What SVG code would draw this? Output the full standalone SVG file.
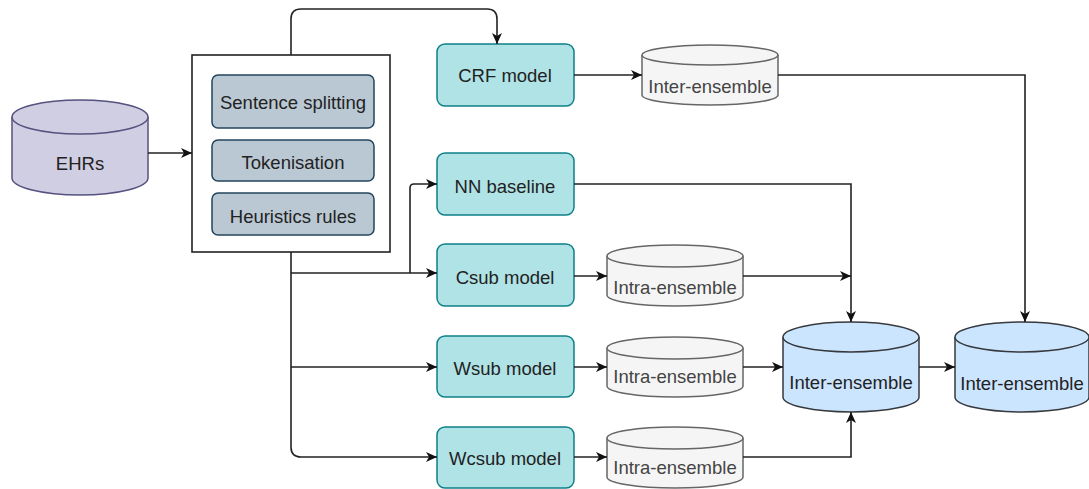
<svg xmlns="http://www.w3.org/2000/svg" width="1089" height="489" viewBox="0 0 1089 489">
<style>
text{font-family:"Liberation Sans",Arial,sans-serif;font-size:18.5px;text-anchor:middle;fill:#222}
.cyl-purple{fill:#d0cee2;stroke:#56517e;stroke-width:1.5}
.cyl-gray{fill:#f5f5f5;stroke:#666;stroke-width:1.5}
.cyl-blue{fill:#cce5ff;stroke:#36393d;stroke-width:1.5}
.teal{fill:#b0e3e6;stroke:#0e8088;stroke-width:1.5}
.step{fill:#bac8d3;stroke:#23445d;stroke-width:1.5}
.frame{fill:#fff;stroke:#222;stroke-width:1.6}
.conn path{fill:none;stroke:#222;stroke-width:1.6}
.gt{fill:#444}
</style>
<defs>
<marker id="arr" markerWidth="14" markerHeight="12" refX="11" refY="5" orient="auto" markerUnits="userSpaceOnUse">
<path d="M0 0 L11 5 L0 10 L3 5 Z" fill="#111"/>
</marker>
</defs>

<g id="ehrs">
<path class="cyl-purple" d="M12 117 A68 17 0 0 1 148 117 V178 A68 17 0 0 1 12 178 Z"/>
<path class="cyl-purple" fill="none" d="M12 117 A68 17 0 0 0 148 117"/>
<text x="80" y="170">EHRs</text>
</g>

<g id="preprocessing">
<rect class="frame" x="192" y="55" width="198" height="197"/>
<g id="sentence-splitting"><rect class="step" x="212" y="75" width="162" height="53" rx="6"/><text x="293" y="109">Sentence splitting</text></g>
<g id="tokenisation"><rect class="step" x="212" y="140" width="162" height="41" rx="6"/><text x="293" y="169">Tokenisation</text></g>
<g id="heuristics"><rect class="step" x="212" y="193" width="162" height="42" rx="6"/><text x="293" y="223">Heuristics rules</text></g>
</g>

<g id="crf"><rect class="teal" x="437" y="44" width="137" height="62" rx="8"/><text x="505" y="82">CRF model</text></g>
<g id="nn"><rect class="teal" x="437" y="153" width="137" height="62" rx="8"/><text x="505" y="193">NN baseline</text></g>
<g id="csub"><rect class="teal" x="437" y="244" width="137" height="62" rx="8"/><text x="505" y="284">Csub model</text></g>
<g id="wsub"><rect class="teal" x="437" y="336" width="137" height="61" rx="8"/><text x="505" y="375">Wsub model</text></g>
<g id="wcsub"><rect class="teal" x="437" y="427" width="137" height="61" rx="8"/><text x="505" y="465">Wcsub model</text></g>

<g id="inter-crf">
<path class="cyl-gray" d="M642 55 A68 10 0 0 1 778 55 V95 A68 10 0 0 1 642 95 Z"/>
<path class="cyl-gray" fill="none" d="M642 55 A68 10 0 0 0 778 55"/>
<text class="gt" x="710" y="93">Inter-ensemble</text>
</g>
<g id="intra1">
<path class="cyl-gray" d="M607 256 A68 11 0 0 1 743 256 V295 A68 11 0 0 1 607 295 Z"/>
<path class="cyl-gray" fill="none" d="M607 256 A68 11 0 0 0 743 256"/>
<text class="gt" x="675" y="294">Intra-ensemble</text>
</g>
<g id="intra2">
<path class="cyl-gray" d="M607 348 A68 11 0 0 1 743 348 V386 A68 11 0 0 1 607 386 Z"/>
<path class="cyl-gray" fill="none" d="M607 348 A68 11 0 0 0 743 348"/>
<text class="gt" x="675" y="383">Intra-ensemble</text>
</g>
<g id="intra3">
<path class="cyl-gray" d="M607 438 A68 11 0 0 1 743 438 V477 A68 11 0 0 1 607 477 Z"/>
<path class="cyl-gray" fill="none" d="M607 438 A68 11 0 0 0 743 438"/>
<text class="gt" x="675" y="474">Intra-ensemble</text>
</g>

<g id="inter1">
<path class="cyl-blue" d="M783 337 A68 15 0 0 1 919 337 V397 A68 15 0 0 1 783 397 Z"/>
<path class="cyl-blue" fill="none" d="M783 337 A68 15 0 0 0 919 337"/>
<text x="851" y="389">Inter-ensemble</text>
</g>
<g id="inter2">
<path class="cyl-blue" d="M955 337 A67 15 0 0 1 1089 337 V397 A67 15 0 0 1 955 397 Z"/>
<path class="cyl-blue" fill="none" d="M955 337 A67 15 0 0 0 1089 337"/>
<text x="1022" y="390">Inter-ensemble</text>
</g>

<g id="connectors" class="conn">
<path d="M148 153 H192" marker-end="url(#arr)"/>
<path d="M291 55 V19 Q291 9 301 9 H487 Q497 9 497 19 V44" marker-end="url(#arr)"/>
<path d="M291 252 V447 Q291 457 301 457 H437" marker-end="url(#arr)"/>
<path d="M291 273 H437" marker-end="url(#arr)"/>
<path d="M410 273 V188 Q410 184 414 184 H437" marker-end="url(#arr)"/>
<path d="M291 367 H437" marker-end="url(#arr)"/>
<path d="M574 75 H642" marker-end="url(#arr)"/>
<path d="M778 75 H1025 V322" marker-end="url(#arr)"/>
<path d="M574 184 H851 V322" marker-end="url(#arr)"/>
<path d="M574 276 H607" marker-end="url(#arr)"/>
<path d="M743 276 H851" marker-end="url(#arr)"/>
<path d="M574 367 H607" marker-end="url(#arr)"/>
<path d="M743 367 H783" marker-end="url(#arr)"/>
<path d="M574 457 H607" marker-end="url(#arr)"/>
<path d="M743 457 H851 V412" marker-end="url(#arr)"/>
<path d="M919 367 H955" marker-end="url(#arr)"/>
</g>
</svg>
